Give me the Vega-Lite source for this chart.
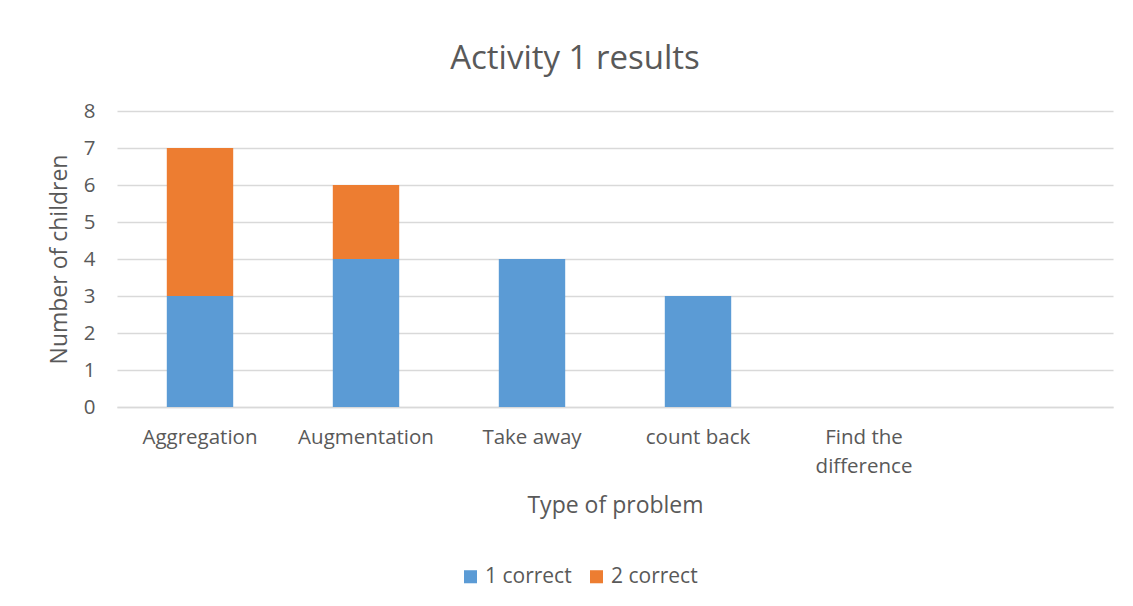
{
  "$schema": "https://vega.github.io/schema/vega-lite/v6.json",
  "width": 996,
  "height": 296,
  "autosize": {"type": "none"},
  "padding": {"left": 117, "top": 111, "right": 20, "bottom": 199},
  "background": "white",
  "title": {
    "text": "Activity 1 results",
    "anchor": "middle",
    "dx": -40,
    "offset": 25,
    "fontSize": 33,
    "font": "Open Sans",
    "fontWeight": "normal",
    "color": "#595959"
  },
  "data": {
    "values": [
      {"problem": "Aggregation", "series": "1 correct", "children": 3},
      {"problem": "Aggregation", "series": "2 correct", "children": 4},
      {"problem": "Augmentation", "series": "1 correct", "children": 4},
      {"problem": "Augmentation", "series": "2 correct", "children": 2},
      {"problem": "Take away", "series": "1 correct", "children": 4},
      {"problem": "Take away", "series": "2 correct", "children": 0},
      {"problem": "count back", "series": "1 correct", "children": 3},
      {"problem": "count back", "series": "2 correct", "children": 0},
      {"problem": "Find the difference", "series": "1 correct", "children": 0},
      {"problem": "Find the difference", "series": "2 correct", "children": 0}
    ]
  },
  "mark": {"type": "bar"},
  "encoding": {
    "x": {
      "field": "problem",
      "type": "nominal",
      "scale": {
        "domain": ["Aggregation", "Augmentation", "Take away", "count back", "Find the difference", ""],
        "paddingInner": 0.6,
        "paddingOuter": 0.3
      },
      "axis": {
        "title": "Type of problem",
        "labelAngle": 0,
        "labelExpr": "datum.label == 'Find the difference' ? ['Find the', 'difference'] : datum.label",
        "labelLineHeight": 29,
        "labelPadding": 20,
        "labelOverlap": false,
        "ticks": false,
        "tickSize": 0,
        "domain": true,
        "domainColor": "#d9d9d9",
        "domainWidth": 1.3,
        "titlePadding": 18
      }
    },
    "y": {
      "field": "children",
      "type": "quantitative",
      "stack": "zero",
      "scale": {"domain": [0, 8], "nice": false},
      "axis": {
        "title": "Number of children",
        "values": [0, 1, 2, 3, 4, 5, 6, 7, 8],
        "labelOverlap": false,
        "ticks": false,
        "tickSize": 0,
        "domain": false,
        "labelPadding": 22,
        "grid": true,
        "gridColor": "#d9d9d9",
        "gridWidth": 1.3,
        "titlePadding": 12
      }
    },
    "color": {
      "field": "series",
      "type": "nominal",
      "scale": {"domain": ["1 correct", "2 correct"], "range": ["#5B9BD5", "#ED7D31"]},
      "legend": {
        "title": null,
        "orient": "none",
        "direction": "horizontal",
        "legendX": 343,
        "legendY": 455,
        "symbolType": "square",
        "symbolSize": 170,
        "symbolStrokeWidth": 0,
        "symbolOpacity": 1,
        "labelFontSize": 21,
        "labelFont": "Open Sans",
        "labelColor": "#595959",
        "columnPadding": 14,
        "labelOffset": 4
      }
    },
    "order": {"field": "series", "sort": "ascending"}
  },
  "config": {
    "view": {"stroke": null},
    "axis": {
      "labelFont": "Open Sans",
      "labelFontSize": 20.5,
      "labelColor": "#595959",
      "titleFont": "Open Sans",
      "titleFontSize": 23,
      "titleFontWeight": "normal",
      "titleColor": "#595959"
    }
  }
}
